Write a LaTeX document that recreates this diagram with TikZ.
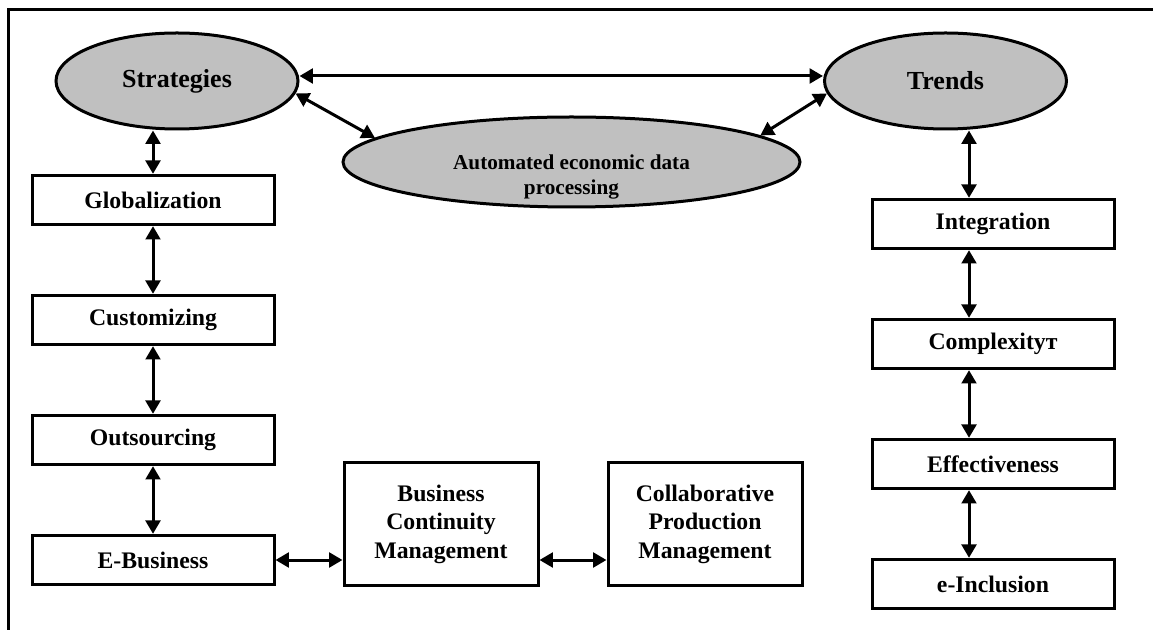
\documentclass[tikz,border=0pt]{standalone}
\usepackage{fontspec}
\setmainfont{Liberation Serif}
\usetikzlibrary{shapes.geometric,arrows.meta,positioning}
\definecolor{ovalgray}{RGB}{192,192,192}
\begin{document}
\begin{tikzpicture}[x=0.75pt, y=-0.75pt, node distance={90pt}, line width=2.25pt,
        >={Triangle[length=10pt,width=11pt]},
        box/.style = {draw, rectangle, fill=white, inner sep=0pt, minimum width=181.5pt, minimum height=37pt, font=\bfseries\fontsize{17.8}{21.3}\selectfont},
        bigbox/.style = {box, minimum width=145.5pt, minimum height=91.5pt, align=center},
        oval/.style = {draw, ellipse, fill=ovalgray, inner sep=0pt, minimum width=181.5pt, minimum height=72pt, font=\bfseries\fontsize{19.5}{23}\selectfont}]
        \useasboundingbox (0,0) rectangle (1153,630);
        \draw (1153,10) -- (8,10) -- (8,630);
        \node[oval] (strat) at (177,81) {Strategies};
        \node[oval] (trend) at (945.5,81) {Trends};
        \node[oval, minimum width=342.75pt, minimum height=67.5pt] (auto) at (571.5,162) {};
        \node[font=\bfseries\fontsize{15.9}{19}\selectfont, align=center] (autotxt) at (571.5,177) {Automated economic data\\processing};
        \node[box] (glob) at (153,200) {Globalization};
        \node[box] (cust) [below of=glob] {Customizing};
        \node[box] (outs) [below of=cust] {Outsourcing};
        \node[box] (ebus) [below of=outs] {E-Business};
        \node[bigbox] (bcm) at (441,524) {Business\\Continuity\\Management};
        \node[bigbox] (cpm) [right of=bcm, node distance=198pt] {Collaborative\\Production\\Management};
        \node[box] (integ) at (993,224) {Integration};
        \node[box] (compl) [below of=integ] {Complexityт};
        \node[box] (effect) [below of=compl] {Effectiveness};
        \node[box] (incl) [below of=effect] {e-Inclusion};
        \draw[<->] ([yshift=3.75pt]strat.east) -- ([yshift=3.75pt]trend.west);
        \draw[<->] (strat.-6.5) -- (auto.173);
        \draw[<->] (trend.186.5) -- (auto.8.5);
        \draw[<->] (glob.north |- strat.south) -- (glob.north);
        \draw[<->] (glob) -- (cust);
        \draw[<->] (cust) -- (outs);
        \draw[<->] (outs) -- (ebus);
        \draw[<->] (ebus.east) -- (ebus.east -| bcm.west);
        \draw[<->] (bcm.east |- ebus.east) -- (cpm.west |- ebus.east);
        \draw[<->] ([xshift=-18pt]integ.north |- trend.south) -- ([xshift=-18pt]integ.north);
        \draw[<->] ([xshift=-18pt]integ.south) -- ([xshift=-18pt]compl.north);
        \draw[<->] ([xshift=-18pt]compl.south) -- ([xshift=-18pt]effect.north);
        \draw[<->] ([xshift=-18pt]effect.south) -- ([xshift=-18pt]incl.north);
    \end{tikzpicture}
\end{document}
